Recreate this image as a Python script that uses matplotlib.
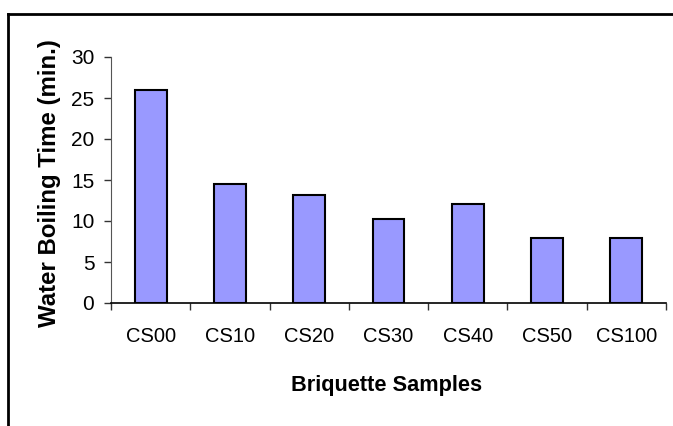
import matplotlib
matplotlib.use("Agg")
import matplotlib.pyplot as plt
from matplotlib.lines import Line2D

# data
samples = ["CS00", "CS10", "CS20", "CS30", "CS40", "CS50", "CS100"]
boil_time = [26.0, 14.5, 13.2, 10.2, 12.1, 7.9, 7.9]
y_ticks = [0, 5, 10, 15, 20, 25, 30]

plt.rcParams["font.family"] = ["Liberation Sans", "DejaVu Sans"]

W, H = 673, 426
fig = plt.figure(figsize=(W / 100, H / 100), dpi=100)
ax = fig.add_axes([111 / W, 1 - 303 / H, 555 / W, 246 / H])

x = list(range(len(samples)))
ax.bar(x, boil_time, width=0.4, color="#9999FF", edgecolor="black", linewidth=1.5, zorder=3)

ax.set_xlim(-0.5, len(samples) - 0.5)
ax.set_ylim(0, 30)
ax.set_yticks(y_ticks)
ax.set_yticklabels([str(v) for v in y_ticks], fontsize=15)
ax.set_xticks(x)
ax.set_xticklabels(samples, fontsize=14.5)
ax.set_xticks([i - 0.5 for i in range(len(samples) + 1)], minor=True)

ax.tick_params(axis="x", which="major", length=0, pad=17)
ax.tick_params(axis="x", which="minor", length=5, width=1, color="#333333", direction="out")
ax.tick_params(axis="y", length=5, width=1, color="#333333", direction="out", pad=7)

for side in ["top", "right"]:
    ax.spines[side].set_visible(False)
ax.spines["left"].set_color("#555555")
ax.spines["bottom"].set_color("black")
ax.spines["bottom"].set_linewidth(1.2)

# axis titles
fig.text(50 / W, 1 - 183 / H, "Water Boiling Time (min.)", rotation=90,
         ha="center", va="center", fontsize=17.3, fontweight="bold")
fig.text(387 / W, 1 - 386 / H, "Briquette Samples",
         ha="center", va="center", fontsize=15.7, fontweight="bold")

# frame around the chart (top and left edges visible)
fig.add_artist(Line2D([8 / W, 1], [1 - 14 / H, 1 - 14 / H], color="black", linewidth=2))
fig.add_artist(Line2D([8 / W, 8 / W], [1 - 14 / H, 0], color="black", linewidth=2))

fig.savefig("out.png", dpi=100)
